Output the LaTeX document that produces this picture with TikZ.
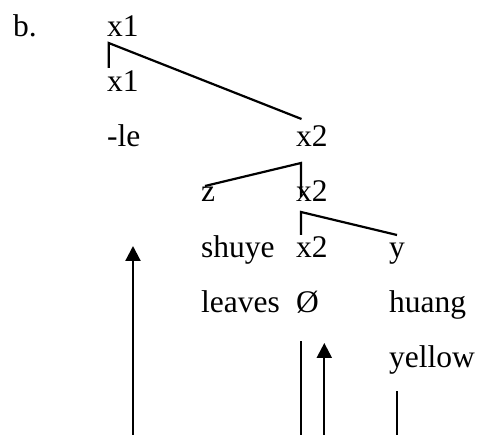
\documentclass[tikz,border=0pt]{standalone}
\usepackage{fontspec}
\setmainfont{Liberation Serif}
\usetikzlibrary{arrows.meta}
\begin{document}
\begin{tikzpicture}[x=1pt,y=-1pt,>={Triangle[width=15pt,length=15pt]},line width=2.2pt,
  every node/.style={anchor=base west,inner sep=0pt,font=\fontsize{31.5}{38}\selectfont}]
\useasboundingbox (0,0) rectangle (477,435);
\node (lbl) at (12,37) {b.};
\node (xa) at (106,37) {x1}; \node (xb) at (106,92) {x1};
\node (le) at (106,147) {-le}; \node (xc) at (295,147) {x2};
\node (zz) at (200,202) {z}; \node (xd) at (295,202) {x2};
\node (shuye) at (200,258) {shuye}; \node (xe) at (295,258) {x2}; \node (yy) at (388,258) {y};
\node (leaves) at (200,313) {leaves}; \node (zero) at (295,313) {Ø}; \node (huang) at (388,313) {huang};
\node (yellow) at (388,368) {yellow};
% branch points
\coordinate (ta) at (108.7,43); \coordinate (tb) at (108.7,68); \coordinate (tc) at (301.5,119);
\coordinate (tx) at (301,163); \coordinate (tz) at (205,186); \coordinate (td) at (301,197);
\coordinate (ty) at (301,212); \coordinate (te) at (301,235); \coordinate (tyy) at (397,235);
\draw (tb)--(ta)--(tc);
\draw (tz)--(tx)--(td);
\draw (te)--(ty)--(tyy);
% movement lines
\coordinate (ma) at (133,435); \coordinate (mb) at (133,246);
\coordinate (mc) at (324.3,435); \coordinate (md) at (324.3,343);
\coordinate (me) at (301,435); \coordinate (mf) at (301,341);
\coordinate (mg) at (396.7,435); \coordinate (mh) at (396.7,391);
\draw[->] (ma)--(mb); \draw[->] (mc)--(md);
\draw (me)--(mf); \draw (mg)--(mh);
\end{tikzpicture}
\end{document}
